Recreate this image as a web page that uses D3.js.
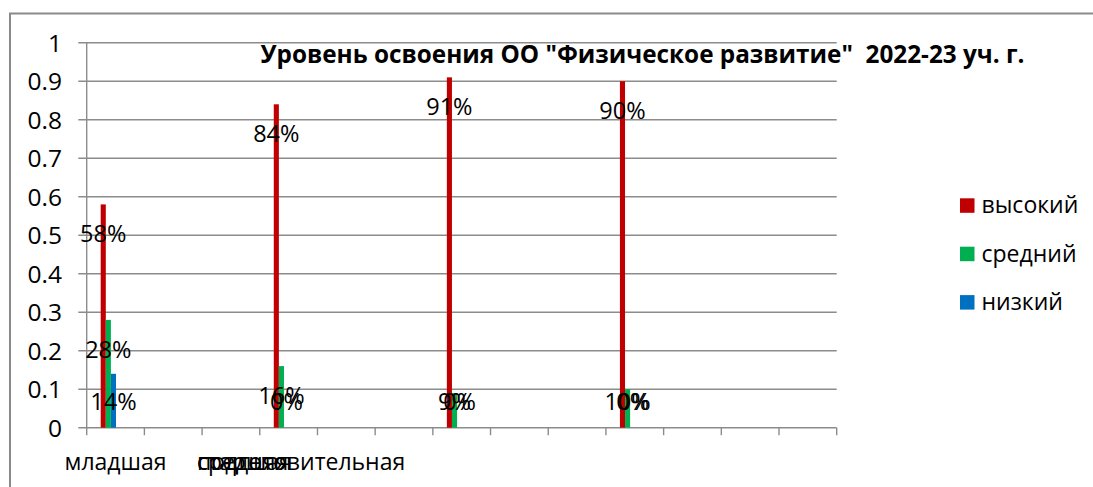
<!DOCTYPE html>
<html><head><meta charset="utf-8">
<script src="https://cdn.jsdelivr.net/npm/d3@7/dist/d3.min.js"></script>
<style>
html,body{margin:0;padding:0;background:#fff;}
svg{display:block;font-family:"Open Sans",sans-serif;}
text{white-space:pre;}
</style></head>
<body><svg id="c" width="1093" height="487"></svg>
<script>
const title = 'Уровень освоения ОО "Физическое развитие"  2022-23 уч. г.';
const categories = ["младшая", "средняя", "старшая", "подготовительная"];
const categorySlots = [0, 3, 6, 9];
const slotCount = 13;
const seriesNames = ["высокий", "средний", "низкий"];
const seriesColors = ["#C00000", "#00B050", "#0070C0"];
const vysokiy = [0.58, 0.84, 0.91, 0.90];
const sredniy = [0.28, 0.16, 0.09, 0.10];
const nizkiy = [0.14, 0.00, 0.00, 0.00];
const yTicks = [0, 0.1, 0.2, 0.3, 0.4, 0.5, 0.6, 0.7, 0.8, 0.9, 1];
const yTickLabels = ["0", "0.1", "0.2", "0.3", "0.4", "0.5", "0.6", "0.7", "0.8", "0.9", "1"];

const seriesValues = [vysokiy, sredniy, nizkiy];
const svg = d3.select("#c");
const L = 86.7, R = 836.7, T = 42.7, B = 427.7;
const grid = "#8c8c8c";

// chart border
svg.append("rect").attr("x", 10).attr("y", 13.5).attr("width", 1200).attr("height", 600)
  .attr("fill", "none").attr("stroke", "#8a8a8a").attr("stroke-width", 2);

const y = d3.scaleLinear().domain([0, 1]).range([B, T]);
const x = d3.scaleBand().domain(d3.range(slotCount)).range([L, R]).padding(0);
const xs = d3.scaleBand().domain(d3.range(seriesNames.length)).range([14, 29.3]).padding(0);

// gridlines
svg.append("g").selectAll("line").data(yTicks).join("line")
  .attr("x1", L - 8.4).attr("x2", R).attr("y1", d => y(d)).attr("y2", d => y(d))
  .attr("stroke", grid).attr("stroke-width", 1.4);
// y axis line
svg.append("line").attr("x1", L).attr("x2", L).attr("y1", T).attr("y2", B)
  .attr("stroke", grid).attr("stroke-width", 1.4);
// x ticks
const bounds = d3.range(slotCount + 1).map(i => i < slotCount ? x(i) : x(slotCount - 1) + x.bandwidth());
svg.append("g").selectAll("line").data(bounds).join("line")
  .attr("x1", d => d).attr("x2", d => d).attr("y1", B).attr("y2", B + 7.5)
  .attr("stroke", grid).attr("stroke-width", 1.4);

// y labels
svg.append("g").selectAll("text").data(yTicks).join("text")
  .attr("x", 62).attr("y", d => y(d)).attr("dy", "0.36em").attr("text-anchor", "end")
  .attr("font-size", 24.5).attr("fill", "#000").text((d, i) => yTickLabels[i]);

// bars
const bars = [];
seriesValues.forEach((vals, s) => vals.forEach((v, c) => bars.push({s, c, v})));
svg.append("g").selectAll("rect").data(bars).join("rect")
  .attr("x", d => x(categorySlots[d.c]) + xs(d.s))
  .attr("width", xs.bandwidth())
  .attr("y", d => y(d.v)).attr("height", d => y(0) - y(d.v))
  .attr("fill", d => seriesColors[d.s]);

// data labels
svg.append("g").selectAll("text").data(bars).join("text")
  .attr("x", d => x(categorySlots[d.c]) + xs(d.s) + xs.bandwidth() / 2)
  .attr("y", d => Math.min(y(d.v) + 38, B - 17.7))
  .attr("text-anchor", "middle").attr("font-size", 23.5).attr("fill", "#000")
  .text(d => Math.round(d.v * 100) + "%");

// category labels
svg.append("g").selectAll("text").data(categories).join("text")
  .attr("x", (d, i) => i === 0 ? x(categorySlots[0]) + x.bandwidth() / 2 : x(2) - 5)
  .attr("y", 470).attr("text-anchor", (d, i) => i === 0 ? "middle" : "start")
  .attr("font-size", 23).attr("fill", "#000").text(d => d);

// title
svg.append("text").attr("x", 642.5).attr("y", 63.3).attr("text-anchor", "middle")
  .attr("font-size", 24.3).attr("font-weight", "bold").attr("fill", "#000").text(title);

// legend
const lg = svg.append("g").selectAll("g").data(seriesNames).join("g")
  .attr("transform", (d, i) => `translate(960,${198.3 + i * 48.4})`);
lg.append("rect").attr("width", 14.5).attr("height", 14.5).attr("fill", (d, i) => seriesColors[i]);
lg.append("text").attr("x", 21.5).attr("y", 15).attr("font-size", 23).attr("fill", "#000").text(d => d);
</script></body></html>
